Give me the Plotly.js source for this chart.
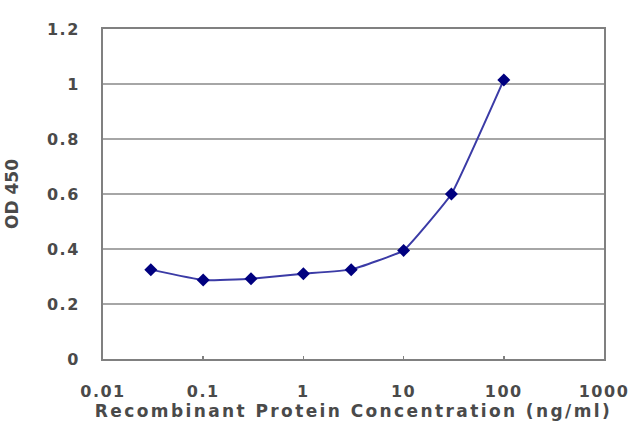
<!DOCTYPE html>
<html>
<head>
<meta charset="utf-8">
<script src="https://cdn.plot.ly/plotly-3.0.1.min.js"></script>
<style>
  html, body { margin: 0; padding: 0; background: #fff; }
  #chart { width: 640px; height: 427px; }
  /* the reference text is wide and heavy, so spread it out a little */
  #chart .xtick text, #chart .ytick text { letter-spacing: 1.5px; }
  #chart .xtitle { letter-spacing: 2.4px; }
</style>
</head>
<body>
<div id="chart"></div>
<script>
// ---- Data ----
const concentration = [0.03, 0.1, 0.3, 1, 3, 10, 30, 100];   // ng/ml
const od450         = [0.325, 0.287, 0.292, 0.31, 0.325, 0.395, 0.60, 1.015];

const xTickVals  = [0.01, 0.1, 1, 10, 100, 1000];
const xTickText  = ['0.01', '0.1', '1', '10', '100', '1000'];

const FONT  = 'DejaVu Sans, Arial, sans-serif';
const TEXT  = '#4a4a4a';
const GRID  = '#a6a6a6';
const AXIS  = '#808080';

const trace = {
  x: concentration,
  y: od450,
  type: 'scatter',
  mode: 'lines+markers',
  line:   { color: '#3b3ba6', width: 2, shape: 'spline', smoothing: 0.3 },
  marker: { color: '#00007f', symbol: 'diamond', size: 10 },
  hoverinfo: 'x+y',
};

const layout = {
  width: 640,
  height: 427,
  margin: { l: 103, r: 36, t: 29, b: 68 },
  paper_bgcolor: '#ffffff',
  plot_bgcolor:  '#ffffff',
  showlegend: false,
  font: { family: FONT, color: TEXT, size: 16, weight: 'bold' },
  xaxis: {
    type: 'log',
    range: [-2, 3],
    tickvals: xTickVals,
    ticktext: xTickText,
    tickfont: { family: FONT, size: 16, color: TEXT, weight: 'bold' },
    ticks: 'inside',
    ticklen: 3,
    tickwidth: 1.5,
    tickcolor: AXIS,
    ticklabelstandoff: 17,
    showgrid: false,
    zeroline: false,
    showline: true,
    linecolor: AXIS,
    linewidth: 2,
    mirror: true,
    title: {
      text: 'Recombinant Protein Concentration (ng/ml)',
      font: { family: FONT, size: 17, color: TEXT, weight: 'bold' },
      standoff: 0,
    },
  },
  yaxis: {
    range: [0, 1.2],
    dtick: 0.2,
    tick0: 0,
    tickfont: { family: FONT, size: 16, color: TEXT, weight: 'bold' },
    ticks: '',
    ticklabelstandoff: 18,
    showgrid: true,
    gridcolor: GRID,
    gridwidth: 1.5,
    zeroline: false,
    showline: true,
    linecolor: AXIS,
    linewidth: 2,
    mirror: true,
    title: {
      text: 'OD 450',
      font: { family: FONT, size: 17, color: TEXT, weight: 'bold' },
      standoff: 29,
    },
  },
};

Plotly.newPlot('chart', [trace], layout, { staticPlot: true, displayModeBar: false });
</script>
</body>
</html>
